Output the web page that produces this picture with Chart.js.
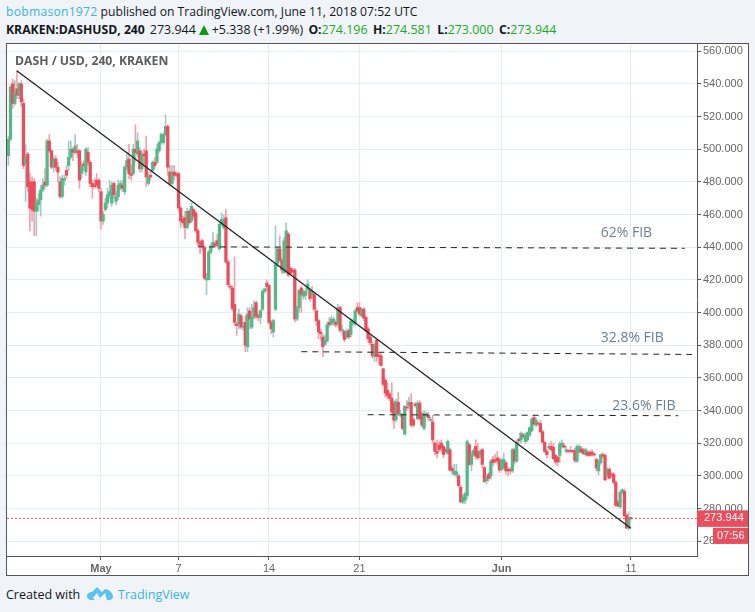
<!DOCTYPE html>
<html>
<head>
<meta charset="utf-8">
<title>DASH / USD</title>
<script src="https://cdn.jsdelivr.net/npm/chart.js@4/dist/chart.umd.min.js"></script>
<style>
html, body { margin: 0; padding: 0; }
body { width: 755px; height: 612px; background: #f0f3f7; overflow: hidden; position: relative; font-family: "Open Sans", sans-serif; color: #131722; }
.line { position: absolute; left: 6px; white-space: nowrap; }
#line1 { top: 3px; font-size: 12.15px; }
#line2 { top: 21px; font-size: 12.45px; }
#line1 .user { color: #3bb3e4; letter-spacing: 0.25px; }
#line2 b { font-weight: 700; font-size: 12.2px; }
#line2 .last { margin-left: 5px; }
#line2 .open { margin-left: 2px; }
#line2 .val { color: #1faa1f; margin-right: 5.5px; }
#line2 .up { display: inline-block; width: 0; height: 0; border-left: 5.5px solid transparent; border-right: 5.5px solid transparent; border-bottom: 10px solid #0f9b0f; margin: 0 3px; vertical-align: -1px; }
#wrap { position: absolute; left: 6px; top: 43px; width: 743px; height: 533px; box-sizing: border-box; border: 1px solid #555; background: #fff; }
canvas { display: block; }
#title { position: absolute; left: 15px; top: 52px; font-size: 12.2px; font-weight: 700; color: #5d5d5d; }
#foot { position: absolute; left: 6px; top: 586px; font-size: 12.5px; color: #131722; }
#logo { position: absolute; left: 87px; top: 585px; }
#brand { position: absolute; left: 118px; top: 586px; font-size: 12.5px; color: #3bb3e4; }
</style>
</head>
<body>
<div id="line1" class="line"><span class="user">bobmason1972</span> published on TradingView.com, June 11, 2018 07:52 UTC</div>
<div id="line2" class="line"><b>KRAKEN:DASHUSD, 240</b><span class="last">273.944</span><span class="up"></span>+5.338 (+1.99%) <b class="open">O:</b><span class="val">274.196</span><b>H:</b><span class="val">274.581</span><b>L:</b><span class="val">273.000</span><b>C:</b><span class="val">273.944</span></div>
<div id="wrap"><canvas id="dashChart" width="741" height="531"></canvas></div>
<div id="title">DASH / USD, 240, KRAKEN</div>
<div id="foot">Created with</div>
<svg id="logo" width="26" height="16" viewBox="0 0 26 16"><path fill="#5ac4ec" d="M0 11 C0 8 3 7 5 7 L10 2 L15 7 L18 4 C22 4 26 8 26 12 C26 14 24 15 22 15 L20 15 L18 8 L13 13 L10 8 L6 13 L8 15 L4 15 C2 15 0 13 0 11 Z"/></svg>
<div id="brand">TradingView</div>
<script>
// 4h candles
let opens = [
  496,506,540,528,537,533,540,528,491,497,
  480,480,480,462,466,469,475,480,478,505,
  499,489,494,489,480,471,481,487,490,495,
  500,498,499,499,485,491,486,498,492,479,
  478,481,481,474,456,463,467,472,467,479,
  468,471,476,478,474,489,494,485,485,500,
  497,499,488,497,499,479,484,487,492,492,
  499,504,504,509,514,486,479,486,485,485,
  464,457,458,452,462,456,463,461,450,443,
  444,440,420,420,437,441,442,444,439,454,
  452,458,431,416,415,405,393,393,398,391,
  394,379,401,391,397,406,398,397,402,413,
  418,416.5,394,388,402,430,439,432,424.5,425,
  448,427,426,426,396,403,415,410,410.5,414,
  413.5,411,411,401,395,388,385,380.5,382.5,394,
  393,394,394,393,403,389,388.5,385,389,386.5,
  393.5,393,403,403,398,402,397,390,385,380.5,
  373,383,374,373.5,365.5,358.5,352.5,350,347.5,344.5,
  334.5,345,337,337,325.5,342,343,345,334.5,344,
  335,344.5,338,329,337,337,334,333,320,315,
  319,320,318,316,313.7,316,304.5,301,300.6,300,
  293,284,285,288,319,307,313,318,315,313,
  316,305,297,301,300,310,309.5,311,310,304,
  305,308,304,304,303,316,309,322.5,322,325,
  321,322,325,327.5,335.7,331,332,332,327,320.5,
  315,317,318,317.5,312.5,311.5,312.5,318,318.5,315,
  315.5,315.5,315.5,315.5,309,314.5,316.5,316,313,314.5,
  314.5,314.5,313,310,303,308,313,312.5,300,304,
  301,301,296,284,281,290,290.5,276,268,274.196
];
let closes = [
  506,538,528,534,533,540,529,490,495,477,
  464,463,462,467,469,475,478,478,505,499,
  489,494,489,486,471,482,482,484,495,500,
  498,502,498,481,490,490,500,492,479,477,
  477,478,476,456,460,467,472,474,478,472,
  471,478,479,476,489,493,485,484,500,498,
  505,488,497,496,483,483,483,492,490,500,
  504,509,509,514,489,479,486,484,484,464,
  456,455,452,462,455,465,459,450,443,441,
  441,421,421,437,440,443,441,441,454,457,
  457,431,417,415.5,402.4,394,392,399,391,391.5,
  380,399,396,397,403,398,397,401,413,414.5,
  416,394,390,395,430,439,432,426,444,450,
  423,424,425,396,403,413.5,411,413,413,417.5,
  408.5,413,402,395,388,387,379,383,392.5,392.5,
  396,396,392.5,403,389,389.5,383.5,388,385,394.5,
  394,401,401,399,402,396.5,389,384,381.5,373.5,
  380,373,373,367.5,356,350.5,349,347.5,339,334,
  345.5,338,338,329,342.5,341.5,345,331,331,343,
  344.5,335,331,338,338,335.5,334.5,322,315,313.7,
  316,317,313,315,321,303.5,303,303,302.5,294,
  284,287,289,321,307,313,315.5,312,311,315,
  307,296.5,299,298.5,309,308,309,309,303.5,309.5,
  310,303,303,303,316,309,320.5,321.5,326,324,
  325,326.5,329.5,334.7,331.7,334,331.7,327,320.5,315,
  313,318,316,310.5,308.5,308.5,319.5,320,317.5,316,
  315,315,315,309.4,318,318,314.5,313.5,316,312.5,
  312.5,313,312.7,304.7,308.3,313,312,297.5,304,298.5,
  300.5,296,282,281.5,290,291.5,275.5,268,273.7,273.944
];
let highs = [
  508,539,543,542,548,541,542,531,503,498,
  485,483,482,470,473,478,482,488,506,509,
  500,496,496,492,483,484,484,490,505,505,
  501,509,503,500,492,493,501,501,493,481,
  482,485,482,476,462,470,476,481,480,480,
  474,481,481,481,490,498,503,490,503,515,
  510,501,499,500,508,486,487,493,495,503,
  505,510,510,521,515,490,490,490,486,486,
  465,459,462,464,463,467,464,462,451,444,
  445,441,424,438,442,449,444,448,455,461,
  460,463,432,417,416,434,394,402,399,394,
  398,403,403,405,407,407,399,402,414,415,
  420,417,395,396,453,440,447,433,446,455,
  449,428,427,427,404,414,416,414,415,420,
  415,416,412,402,396,390,387,386,394,397,
  398,397,395,405,404,392,389,390,390,396,
  396,402,406,406,403,403,398,391,386,382,
  381,384,375,375,366,360,357,351,357,346,
  347,351,340,338,343,346,348,350,336,345,
  346,346,339,340,339,339,336,337,321,322,
  321,322,319,317,322,317,306,307,307,301,
  294,288,290,322,320,315,317,322,320,316,
  317,306,300,302,310,312,313,315,311,311,
  314,309,305,305,317,317,322,323,327,326,
  326,327,330,335.5,337,335,333,334,328,321,
  316,320,321,320,313,312,321,322,320,318,
  316,318,316,317,319,319,318,317,317,315.5,
  315.5,316,314,311,310,313.5,314,313.5,305,305,
  302,302,297,285,291,292,292,277,278,274.581
];
let lows = [
  490,505,525,527,531,531,526,488,468,474,
  450,456,447,447,462,459,474,476,477,498,
  488,486,487,480,470,470,478,482,487,494,
  493,497,495,476,482,487,484,490,477,470,
  476,477,474,451,454,462,464,470,465,470,
  466,469,475,474,472,487,482,481,484,492,
  495,486,486,490,477,478,481,486,488,491,
  498,503,503,508,484,478,478,481,483,462,
  452,454,445,451,454,455,457,449,441,436,
  438,420,411,420,436,440,440,440,438,453,
  451,430,416,414,401,392,386,390,390,389,
  376,376,390,390,396,396,395,393,401,412,
  413,393,387,385,401,428,431,424,424,424,
  422,423,424,394,395,400,400,408,408,413,
  407,409,401,392,384,383,373,380,382,391,
  392,392,391,391,388,386,382,384,384,385,
  392,392,400,398,397,395,388,382,380,372,
  370,370,368,367,355,348,347,346,338,329,
  333,337,336,328,325,340,341,330,330,342,
  334,334,330,328,336,334,333,320,313,311,
  315,315,311,314,313,303,301,300,299,293,
  283.5,283,283,286,306,303,312,310,310,311,
  305,296,295,297,298,306,308,307,302,303,
  304,301,300,301,302,307,308,320,320,323,
  320,321,324,327,331,330,331,326,320,314,
  311,316,315,310,307,306,308,317,317,314,
  314,314,314,308,308,314,314,313,312,312,
  312,312,312,303,300.5,307,311,297,299,298,
  299,295,281,281,280,289,275,267.5,267,273
];

let priceTicks = [260,280,300,320,340,360,380,400,420,440,460,480,500,520,540,560];
let dayTicks = [43,79,121,163,229,289];
let dayLabels = ['May','7','14','21','Jun','11'];
let trendX = [3.9,289];
let trendY = [548,267.9];
let fib62X = [88,314];
let fib62Y = [440.2,439.3];
let fib328X = [136,317.4];
let fib328Y = [376,374.3];
let fib236X = [166.8,311];
let fib236Y = [337.4,336.8];
let lastPrice = 273.944;

const UP = '#53b987', DOWN = '#eb4d5c';
const UP_WICK = '#9fcbc6', DOWN_WICK = '#f2a1aa';
const X_MIN = -0.63, X_MAX = 319.7;

function isUp(i){ return closes[i] >= opens[i]; }
function segment(xs, ys){ return xs.map((x, i) => ({x: x, y: ys[i]})); }

let wickData = highs.map((h, i) => ({x: i, y: [lows[i], h]}));
let bodyData = opens.map((o, i) => ({x: i, y: [o, closes[i]]}));

// text and price tags sitting on top of the chart
const overlay = {
  id: 'overlay',
  afterDraw(chart){
    let c = chart.ctx, xs = chart.scales.x, ys = chart.scales.y;
    c.save();
    c.textBaseline = 'middle';
    c.font = '14px "Open Sans", sans-serif';
    c.fillStyle = '#6c8092';
    c.textAlign = 'left';
    c.fillText('62% FIB', xs.getPixelForValue(275), ys.getPixelForValue(448.5));
    c.fillText('32.8% FIB', xs.getPixelForValue(275), ys.getPixelForValue(384.5));
    c.fillText('23.6% FIB', xs.getPixelForValue(280.4), ys.getPixelForValue(342.8));

    let ly = ys.getPixelForValue(lastPrice);
    c.fillStyle = DOWN;
    c.fillRect(690, ly - 8, 51, 16.5);
    c.fillRect(706, ly + 9.5, 35, 16);
    c.fillStyle = '#fff';
    c.font = '11px "Liberation Sans", Arial, sans-serif';
    c.fillText(lastPrice.toFixed(3), 697, ly);
    c.fillText('07:56', 710, ly + 17.5);
    c.restore();
  }
};

let ctx = document.getElementById('dashChart').getContext('2d');
let lineCommon = {type: 'line', pointRadius: 0, borderWidth: 1, fill: false, tension: 0, order: 0};

let dashChart = new Chart(ctx, {
  type: 'bar',
  data: {
    datasets: [
      {label: 'wick', data: wickData, barThickness: 1, grouped: false, order: 3,
        backgroundColor: wickData.map((d, i) => isUp(i) ? UP_WICK : DOWN_WICK)},
      {label: 'body', data: bodyData, barThickness: 2.6, grouped: false, order: 2, minBarLength: 1,
        backgroundColor: bodyData.map((d, i) => isUp(i) ? UP : DOWN)},
      Object.assign({}, lineCommon, {label: 'trend', data: segment(trendX, trendY), borderColor: '#222', borderWidth: 1.3}),
      Object.assign({}, lineCommon, {label: '62% FIB', data: segment(fib62X, fib62Y), borderColor: '#222', borderDash: [6,5]}),
      Object.assign({}, lineCommon, {label: '32.8% FIB', data: segment(fib328X, fib328Y), borderColor: '#222', borderDash: [6,5]}),
      Object.assign({}, lineCommon, {label: '23.6% FIB', data: segment(fib236X, fib236Y), borderColor: '#222', borderDash: [6,5]}),
      Object.assign({}, lineCommon, {label: 'last', data: segment([X_MIN, X_MAX], [lastPrice, lastPrice]), borderColor: DOWN, borderDash: [2,2]})
    ]
  },
  options: {
    responsive: false,
    animation: false,
    layout: {padding: 0},
    plugins: {legend: {display: false}, tooltip: {enabled: false}},
    scales: {
      x: {
        type: 'linear',
        min: X_MIN,
        max: X_MAX,
        offset: false,
        afterFit(s){ s.height = 19; s.paddingLeft = 0; s.paddingRight = 0; },
        afterBuildTicks(s){ s.ticks = dayTicks.map(v => ({value: v})); },
        grid: {color: '#e3edf3', offset: false, tickColor: '#555', tickLength: 4, lineWidth: 1},
        border: {color: '#555'},
        ticks: {
          autoSkip: false, maxRotation: 0, padding: 2, color: '#666',
          font: (c) => ({family: '"Liberation Sans", Arial, sans-serif', size: 11,
            weight: (c.tick && (c.tick.label === 'May' || c.tick.label === 'Jun')) ? 'bold' : 'normal'}),
          callback: (v) => dayLabels[dayTicks.indexOf(v)]
        }
      },
      y: {
        position: 'right',
        min: 250.9,
        max: 564.4,
        afterFit(s){ s.width = 51; s.paddingTop = 0; s.paddingBottom = 0; },
        afterBuildTicks(s){ s.ticks = priceTicks.map(v => ({value: v})); },
        grid: {color: '#e3edf3', tickColor: '#555', tickLength: 4, lineWidth: 1},
        border: {color: '#555'},
        ticks: {
          padding: 2, color: '#666',
          font: {family: '"Liberation Sans", Arial, sans-serif', size: 11},
          callback: (v) => v.toFixed(3)
        }
      }
    }
  },
  plugins: [overlay]
});
</script>
</body>
</html>
